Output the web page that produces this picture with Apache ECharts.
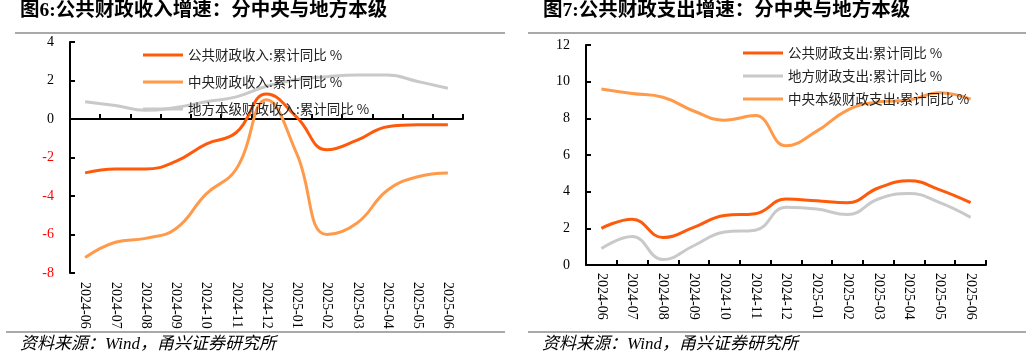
<!DOCTYPE html>
<html>
<head>
<meta charset="utf-8">
<script src="https://cdn.jsdelivr.net/npm/echarts@6/dist/echarts.min.js"></script>
<style>
html,body{margin:0;padding:0;background:#fff;}
#main{width:1032px;height:359px;}
</style>
</head>
<body>
<div id="main"></div>
<script>
// ---- data ----
var categories = ['2024-06','2024-07','2024-08','2024-09','2024-10','2024-11','2024-12','2025-01','2025-02','2025-03','2025-04','2025-05','2025-06'];

var revNames = ['公共财政收入:累计同比 %','中央财政收入:累计同比 %','地方本级财政收入:累计同比 %'];
var revTotal   = [-2.8, -2.6, -2.6, -2.2, -1.3, -0.7, 1.3, 0.1, -1.6, -1.1, -0.4, -0.3, -0.3];
var revCentral = [-7.2, -6.4, -6.2, -5.7, -3.9, -2.6, 1.0, -1.8, -6.0, -5.4, -3.7, -3.0, -2.8];
var revLocal   = [0.9, 0.7, 0.45, 0.6, 0.9, 1.15, 1.7, 2.05, 2.2, 2.28, 2.28, 1.95, 1.6];

var expNames = ['公共财政支出:累计同比 %','地方财政支出:累计同比 %','中央本级财政支出:累计同比 %'];
var expTotal   = [2.0, 2.5, 1.5, 2.05, 2.7, 2.8, 3.6, 3.5, 3.4, 4.2, 4.6, 4.1, 3.4];
var expLocal   = [0.9, 1.55, 0.3, 1.05, 1.8, 1.9, 3.15, 3.05, 2.75, 3.6, 3.9, 3.4, 2.6];
var expCentral = [9.6, 9.35, 9.15, 8.4, 7.9, 8.15, 6.5, 7.3, 8.45, 8.9, 9.0, 9.4, 9.05];

var titles = ['图6:公共财政收入增速：分中央与地方本级','图7:公共财政支出增速：分中央与地方本级'];
var sourceText = '资料来源：Wind，甬兴证券研究所';

// ---- styles ----
var DARK = '#FF5A0A', LIGHT = '#FF9A4A', GRAY = '#C9C9C9';
var SERIF = "'Liberation Serif','Noto Sans CJK SC'";
var CJK = "'Noto Sans CJK SC'";

var chart = echarts.init(document.getElementById('main'), null, {renderer:'canvas'});

function axisLineStyle(){ return {show:true, lineStyle:{color:'#000', width:2}}; }

function lineSeries(name, data, color, xi, yi){
  return {
    name: name, type:'line', data: data, xAxisIndex: xi, yAxisIndex: yi,
    smooth: 0.45, symbol:'none', showSymbol:false,
    lineStyle:{color:color, width:3}, itemStyle:{color:color},
    emphasis:{disabled:true}
  };
}

var option = {
  animation:false,
  title:[
    {text:titles[0], left:20, top:1, padding:0, textStyle:{fontFamily:SERIF, fontSize:19.5, fontWeight:'bold', color:'#000'}},
    {text:titles[1], left:543, top:1, padding:0, textStyle:{fontFamily:SERIF, fontSize:19.5, fontWeight:'bold', color:'#000'}}
  ],
  legend:[
    {orient:'vertical', left:143, top:48, itemWidth:40, itemHeight:3, itemGap:13, icon:'rect',
     data: revNames, padding:0, textStyle:{fontFamily:CJK, fontSize:13.5, color:'#222', lineHeight:14}, selectedMode:false},
    {orient:'vertical', left:743, top:46, itemWidth:40, itemHeight:3, itemGap:9, icon:'rect',
     data: expNames, padding:0, textStyle:{fontFamily:CJK, fontSize:13.5, color:'#222', lineHeight:14}, selectedMode:false}
  ],
  grid:[
    {left:70, top:42, width:393, height:231},
    {left:586, top:45, width:400, height:220}
  ],
  xAxis:[
    {type:'category', gridIndex:0, data:categories, position:'bottom', boundaryGap:true,
     axisLine:{show:false, onZero:false}, axisTick:{show:false},
     axisLabel:{show:true, rotate:-90, margin:9, interval:0, fontFamily:SERIF, fontSize:14, color:'#000'}},
    {type:'category', gridIndex:0, data:categories, position:'bottom', boundaryGap:true,
     axisLine:{show:true, onZero:true, lineStyle:{color:'#000', width:2}},
     axisTick:{show:true, inside:true, length:5, interval:0, lineStyle:{color:'#000', width:2}},
     axisLabel:{show:false}},
    {type:'category', gridIndex:1, data:categories, position:'bottom', boundaryGap:true,
     axisLine:{show:true, onZero:false, lineStyle:{color:'#000', width:2}},
     axisTick:{show:true, inside:true, length:5, interval:0, lineStyle:{color:'#000', width:2}},
     axisLabel:{show:true, rotate:-90, margin:8, interval:0, fontFamily:SERIF, fontSize:14, color:'#000'}}
  ],
  yAxis:[
    {type:'value', gridIndex:0, min:-8, max:4, interval:2,
     axisLine:axisLineStyle(),
     axisTick:{show:true, inside:true, length:5, lineStyle:{color:'#000', width:2}},
     splitLine:{show:false},
     axisLabel:{margin:16, fontFamily:SERIF, fontSize:14,
       color:function(v){ return Number(v) < 0 ? '#FF0000' : '#000'; }}},
    {type:'value', gridIndex:1, min:0, max:12, interval:2,
     axisLine:axisLineStyle(),
     axisTick:{show:true, inside:true, length:5, lineStyle:{color:'#000', width:2}},
     splitLine:{show:false},
     axisLabel:{margin:16, fontFamily:SERIF, fontSize:14, color:'#000'}}
  ],
  series:[
    lineSeries(revNames[2], revLocal, GRAY, 0, 0),
    lineSeries(revNames[1], revCentral, LIGHT, 0, 0),
    lineSeries(revNames[0], revTotal, DARK, 0, 0),
    lineSeries(expNames[2], expCentral, LIGHT, 2, 1),
    lineSeries(expNames[1], expLocal, GRAY, 2, 1),
    lineSeries(expNames[0], expTotal, DARK, 2, 1)
  ],
  graphic:[
    {type:'line', shape:{x1:15, y1:33, x2:505, y2:33}, style:{stroke:'#8c8c8c', lineWidth:1.5}, silent:true},
    {type:'line', shape:{x1:528, y1:33, x2:1026, y2:33}, style:{stroke:'#8c8c8c', lineWidth:1.5}, silent:true},
    {type:'line', shape:{x1:6, y1:332, x2:505, y2:332}, style:{stroke:'#8c8c8c', lineWidth:1.5}, silent:true},
    {type:'line', shape:{x1:528, y1:332, x2:1026, y2:332}, style:{stroke:'#8c8c8c', lineWidth:1.5}, silent:true},
    {type:'text', left:20, top:336, silent:true,
     style:{text:sourceText, font:"italic 17px 'Liberation Serif','Noto Sans CJK SC'", fill:'#000'}},
    {type:'text', left:542, top:336, silent:true,
     style:{text:sourceText, font:"italic 17px 'Liberation Serif','Noto Sans CJK SC'", fill:'#000'}}
  ]
};
chart.setOption(option);
</script>
</body>
</html>
